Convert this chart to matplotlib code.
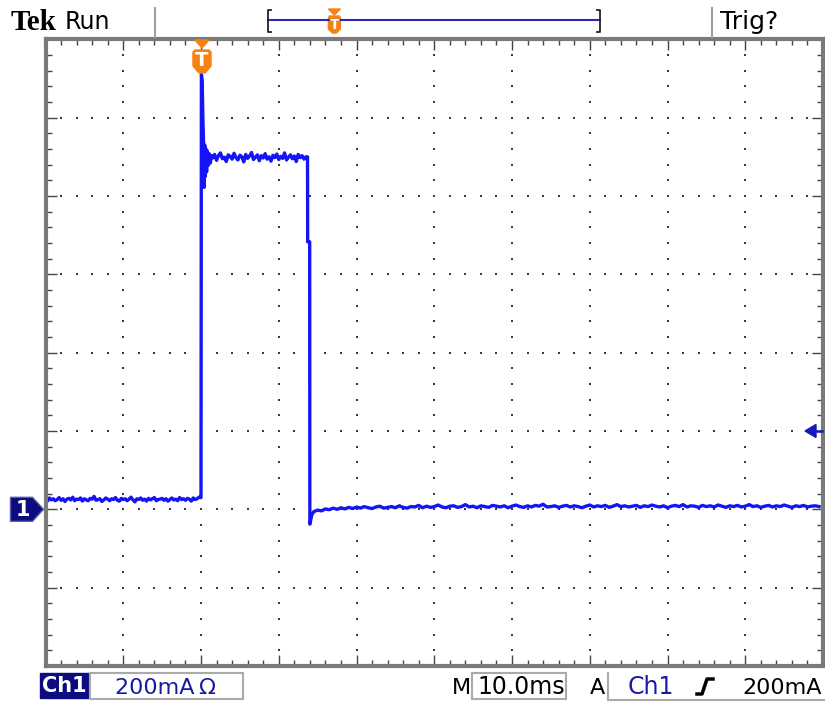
import numpy as np
import matplotlib
matplotlib.use('Agg')
import matplotlib.pyplot as plt
from matplotlib.patches import Polygon, Rectangle

# Ch1 current, time in ms (trigger at 0), current in mA
pre_t = np.arange(-20, 0, 0.25)
pre_ma = [26, 21, 29, 24, 27, 22, 25, 30, 23, 27,
          20, 26, 28, 24, 31, 22, 26, 25, 29, 21,
          27, 24, 22, 28, 26, 33, 23, 25, 27, 20,
          24, 29, 26, 22, 27, 25, 30, 23, 21, 28,
          25, 27, 22, 26, 31, 24, 19, 27, 25, 29,
          23, 26, 21, 28, 24, 27, 30, 22, 25, 26,
          28, 23, 27, 21, 25, 29, 24, 26, 22, 30,
          25, 27, 23, 28, 26, 21, 29, 25, 27, 31]

edge_t = [0.0, 0.05, 0.15, 0.25, 0.32, 0.4, 0.48, 0.56, 0.64, 0.72, 0.82, 0.92, 1.05, 1.2, 1.35]
edge_ma = [30, 1110, 1095, 990, 940, 822, 930, 850, 920, 862, 915, 878, 908, 884, 903]

plat_t = np.arange(1.5, 13.6, 0.25)
plat_ma = [897, 906, 891, 903, 910, 895, 899, 888, 905, 901,
           894, 909, 898, 892, 904, 900, 887, 906, 896, 902,
           911, 893, 899, 905, 890, 903, 897, 908, 894, 900,
           889, 904, 898, 907, 893, 901, 896, 910, 892, 899,
           905, 895, 902, 888, 906, 898, 903, 894, 900]

fall_t = [13.7, 13.72, 13.98, 14.0, 14.1, 14.25]
fall_ma = [900, 683, 683, -38, -28, -14]

post_t = np.arange(14.5, 80, 0.5)
post_ma = [-6, -2, -4, 1, -1, 3, 0, 4, 1, 5,
           2, 6, 3, 7, 4, 2, 6, 8, 3, 5,
           7, 4, 9, 5, 3, 7, 6, 10, 4, 8,
           5, 7, 11, 6, 4, 8, 9, 5, 7, 12,
           6, 8, 4, 9, 7, 5, 10, 8, 6, 9,
           4, 8, 11, 7, 5, 9, 6, 10, 8, 13,
           6, 7, 9, 5, 8, 10, 6, 9, 7, 4,
           8, 11, 6, 9, 7, 10, 5, 8, 12, 7,
           9, 6, 8, 10, 5, 9, 7, 11, 8, 6,
           9, 4, 8, 10, 7, 12, 6, 9, 8, 5,
           10, 7, 9, 6, 11, 8, 5, 9, 7, 10,
           6, 8, 12, 7, 9, 5, 8, 10, 6, 9,
           7, 11, 8, 5, 9, 7, 10, 6, 8, 9, 7]

ma_div = 200      # mA/div
ms_div = 10       # ms/div
t_start = -20     # left edge of screen, ms
ma_bottom = -400  # bottom edge of screen, mA
trig_time = 0
trig_level = 200

W, H = 825, 702
navy = '#0c0c80'
blue = '#1414f5'
orange = '#f7820f'

t = np.concatenate([pre_t, edge_t, plat_t, fall_t, post_t])
ma = np.concatenate([pre_ma, edge_ma, plat_ma, fall_ma, post_ma])

fig = plt.figure(figsize=(W / 100, H / 100), dpi=100)
ax = fig.add_axes([45.5 / W, 36 / H, 777.5 / W, 626.7 / H])
t_end = t_start + 10 * ms_div
ma_top = ma_bottom + 8 * ma_div
ax.set_xlim(t_start, t_end)
ax.set_ylim(ma_bottom, ma_top)

# graticule: dotted division lines, 5 dots per division
for k in range(1, 10):
    gx = t_start + k * ms_div
    ys = ma_bottom + np.arange(1, 40) * ma_div / 5
    ax.plot(np.full(len(ys), gx), ys, 's', ms=1.5, mew=0, color='#3a3a3a')
for k in range(1, 8):
    gy = ma_bottom + k * ma_div
    xs = t_start + np.arange(1, 50) * ms_div / 5
    ax.plot(xs, np.full(len(xs), gy), 's', ms=1.5, mew=0, color='#3a3a3a')

ax.plot(t, ma, color=blue, lw=2.4)

ax.set_xticks(np.arange(t_start, t_end + 1, ms_div))
ax.set_xticks(np.arange(t_start, t_end + 1, ms_div / 5), minor=True)
ax.set_yticks(np.arange(ma_bottom, ma_top + 1, ma_div))
ax.set_yticks(np.arange(ma_bottom, ma_top + 1, ma_div / 5), minor=True)
ax.tick_params(which='both', direction='in', top=True, right=True,
               labelbottom=False, labelleft=False, color='#444444', width=1)
ax.tick_params(which='major', length=8)
ax.tick_params(which='minor', length=4)
for s in ax.spines.values():
    s.set_color('#7a7a7a')
    s.set_linewidth(3)


def to_px(x, y):
    px, py = ax.transData.transform((x, y))
    return px, H - py


# overlay in pixel coordinates for the scope's readouts
ov = fig.add_axes([0, 0, 1, 1])
ov.set_xlim(0, W)
ov.set_ylim(H, 0)
ov.axis('off')

# top bar
ov.text(11, 30, 'Tek', family='Liberation Serif', weight='bold', fontsize=21)
ov.text(65, 29, 'Run', fontsize=17)
ov.plot([155, 155], [8, 37], color='#a0a0a0', lw=1.5)
ov.plot([712, 712], [8, 37], color='#a0a0a0', lw=1.5)
ov.text(720, 29, 'Trig?', fontsize=18)
rec_l, rec_r = 268, 600
ov.plot([rec_l, rec_r], [20, 20], color='#2a2ab4', lw=1.5)
ov.plot([rec_l + 3, rec_l, rec_l, rec_l + 3], [10, 10, 32, 32], color='#222222', lw=1.3)
ov.plot([rec_r - 3, rec_r, rec_r, rec_r - 3], [10, 10, 32, 32], color='#222222', lw=1.3)
sx = rec_l + (rec_r - rec_l) * (trig_time - t_start) / (t_end - t_start)
ov.add_patch(Polygon([(sx - 6, 9), (sx + 6, 9), (sx, 15)], color=orange))
ov.add_patch(Polygon([(sx - 5, 16), (sx + 5, 16), (sx + 6, 18), (sx + 6, 29),
                      (sx + 2, 33), (sx - 2, 33), (sx - 6, 29), (sx - 6, 18)], color=orange))
ov.text(sx, 25, 'T', color='white', weight='bold', fontsize=10, ha='center', va='center')

# trigger position marker
tx, _ = to_px(trig_time, 0)
tx += 1
ov.add_patch(Polygon([(tx - 7, 40), (tx + 7, 40), (tx, 48)], color=orange))
ov.add_patch(Polygon([(tx - 7, 50), (tx + 7, 50), (tx + 9, 52), (tx + 9, 66),
                      (tx + 3, 73), (tx - 3, 73), (tx - 9, 66), (tx - 9, 52)], color=orange))
ov.text(tx, 61, 'T', color='white', weight='bold', fontsize=14, ha='center', va='center')

# ground marker for Ch1
gx, gy = to_px(t_start, 0)
ov.add_patch(Polygon([(gx - 35, gy - 12), (gx - 13, gy - 12), (gx - 2, gy),
                      (gx - 13, gy + 12), (gx - 35, gy + 12)], facecolor=navy,
                     edgecolor='#5a5aa8', lw=1))
ov.text(gx - 23, gy + 1, '1', color='white', weight='bold', fontsize=15, ha='center', va='center')

# trigger level arrow
rx, ly = to_px(t_end, trig_level)
ov.add_patch(Polygon([(rx - 18, ly), (rx - 7, ly - 6.5), (rx - 7, ly + 6.5)], color='#1818c0'))
ov.plot([rx - 8, rx - 1], [ly, ly], color='#1818c0', lw=1.8)

# bottom bar
ov.add_patch(Rectangle((40, 673), 48, 25, color=navy))
ov.text(64, 686, 'Ch1', color='white', weight='bold', fontsize=15, ha='center', va='center')
ov.add_patch(Rectangle((90, 673), 153, 26, facecolor='none', edgecolor='#aaaaaa', lw=1.5))
ov.text(115, 694, '200mA\u2009\u03a9', color='#1a1aa0', fontsize=16)
ov.text(452, 694, 'M', fontsize=16)
ov.add_patch(Rectangle((472, 673), 94, 26, facecolor='none', edgecolor='#aaaaaa', lw=1.5))
ov.text(477, 694, '10.0ms', fontsize=17)
ov.text(590, 694, 'A', fontsize=16)
ov.plot([608, 608, W], [673, 700, 700], color='#aaaaaa', lw=1.5)
ov.text(628, 694, 'Ch1', color='#1a1aa0', fontsize=17)
ov.plot([697, 702, 707, 713], [694, 694, 679, 679], color='black', lw=2.5)
ov.text(742, 694, '200mA', fontsize=16)

fig.savefig('out.png', dpi=100)
